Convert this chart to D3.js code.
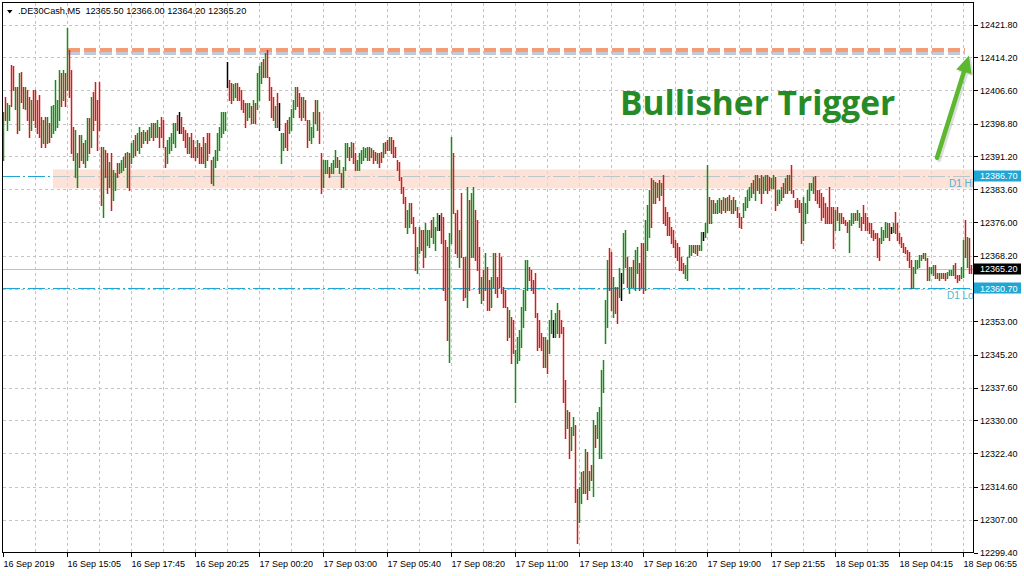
<!DOCTYPE html>
<html><head><meta charset="utf-8">
<script src="https://cdn.jsdelivr.net/npm/d3@7"></script>
<style>html,body{margin:0;padding:0;background:#fff;overflow:hidden}svg{display:block;font-family:"Liberation Sans",Arial,sans-serif}</style>
</head><body><svg id="c" width="1024" height="576"></svg>
<script>
// ---------- data ----------
const symbol = ".DE30Cash,M5";
const headerOHLC = ["12365.50", "12366.00", "12364.20", "12365.20"];
const timeLabels = ["16 Sep 2019","16 Sep 15:05","16 Sep 17:45","16 Sep 20:25","17 Sep 00:20","17 Sep 03:00","17 Sep 05:40","17 Sep 08:20","17 Sep 11:00","17 Sep 13:40","17 Sep 16:20","17 Sep 19:00","17 Sep 21:55","18 Sep 01:35","18 Sep 04:15","18 Sep 06:55"];
const priceTicks = [12421.80,12414.20,12406.60,12398.80,12391.20,12383.60,12376.00,12368.20,12360.40,12353.00,12345.20,12337.60,12330.00,12322.40,12314.60,12307.00,12299.40];
const highs = [
12401.6,12405.1,12403.7,12403.2,12412.5,12412.1,12407.4,12407.4,12410.6,12410.8,
12407.4,12407.2,12406.7,12405.1,12404.4,12406.7,12406.7,12404.4,12405.5,12400.4,
12399.7,12400.4,12400.4,12399.0,12402.8,12403.2,12409.0,12404.4,12411.3,12410.6,
12411.3,12410.6,12421.1,12416.0,12411.3,12398.1,12397.4,12392.1,12396.3,12396.3,
12394.4,12395.1,12400.2,12400.2,12405.1,12406.2,12408.5,12404.4,12408.5,12393.5,
12393.5,12392.8,12392.1,12390.0,12392.1,12388.1,12387.4,12389.7,12389.7,12390.4,
12391.1,12392.1,12392.3,12392.1,12394.4,12395.1,12396.3,12396.7,12398.1,12396.9,
12397.4,12396.9,12397.4,12398.1,12399.0,12399.0,12399.0,12399.7,12398.1,12400.4,
12399.7,12393.5,12395.1,12395.8,12396.7,12399.0,12399.0,12400.9,12401.4,12400.4,
12398.1,12397.4,12396.7,12395.8,12396.7,12395.1,12393.5,12395.1,12394.4,12393.5,
12395.8,12394.4,12396.7,12396.7,12390.4,12391.1,12392.8,12396.7,12398.1,12401.4,
12401.4,12401.4,12413.0,12409.0,12408.3,12407.9,12408.3,12408.3,12407.4,12406.7,
12404.4,12403.7,12403.7,12403.7,12402.8,12404.4,12403.7,12410.6,12412.1,12413.0,
12413.7,12415.3,12416.0,12409.7,12407.4,12405.1,12402.8,12406.0,12403.7,12396.7,
12396.7,12399.0,12399.7,12400.4,12402.1,12404.4,12407.4,12407.2,12406.0,12405.1,
12405.1,12404.4,12399.7,12399.7,12398.1,12401.4,12404.4,12404.4,12401.4,12392.1,
12390.4,12390.4,12390.4,12388.8,12389.7,12390.4,12392.8,12391.1,12390.4,12387.4,
12388.8,12394.4,12394.4,12393.5,12394.6,12394.4,12392.1,12390.4,12392.1,12392.8,
12393.5,12393.2,12393.5,12393.5,12393.2,12392.8,12392.3,12392.1,12392.1,12392.3,
12394.4,12394.6,12395.1,12395.8,12395.8,12395.1,12393.5,12390.4,12390.0,12386.5,
12384.2,12381.8,12378.8,12380.4,12380.4,12377.2,12374.9,12370.2,12374.9,12374.2,
12374.2,12375.8,12374.2,12374.2,12376.5,12377.2,12374.9,12378.1,12377.7,12378.1,
12377.2,12371.9,12370.2,12373.5,12395.8,12392.1,12378.1,12378.8,12374.2,12382.8,
12367.9,12367.9,12384.2,12381.1,12382.8,12384.2,12378.8,12376.5,12370.2,12363.3,
12364.9,12368.8,12365.6,12362.6,12363.3,12368.8,12368.8,12363.3,12368.8,12367.9,
12360.9,12360.2,12356.3,12355.6,12354.0,12353.3,12346.3,12349.3,12351.0,12356.3,
12360.2,12367.2,12367.2,12365.6,12364.9,12362.6,12364.2,12354.9,12353.3,12350.3,
12349.3,12349.3,12348.6,12353.3,12355.6,12353.3,12354.9,12357.2,12355.6,12353.3,
12351.7,12339.3,12332.4,12331.9,12328.4,12330.8,12328.9,12314.2,12314.5,12318.0,
12318.4,12323.5,12322.6,12318.4,12319.6,12330.1,12328.9,12331.9,12333.1,12341.7,
12344.0,12357.9,12367.2,12370.0,12369.0,12363.3,12360.9,12360.9,12365.4,12364.2,
12373.5,12374.2,12367.9,12365.6,12365.6,12367.2,12369.5,12370.2,12366.5,12371.2,
12371.2,12376.5,12380.0,12383.5,12386.3,12385.8,12385.3,12385.1,12385.8,12385.1,
12387.0,12379.5,12378.4,12377.2,12374.9,12374.2,12371.9,12371.2,12370.2,12367.9,
12366.5,12366.0,12367.9,12370.7,12370.7,12370.7,12370.7,12370.7,12370.7,12373.7,
12373.7,12375.8,12389.3,12381.8,12381.1,12381.1,12380.4,12381.1,12381.6,12381.1,
12381.8,12381.6,12381.8,12382.3,12381.1,12381.8,12381.1,12379.5,12378.1,12377.2,
12380.4,12381.8,12383.5,12384.2,12385.1,12385.8,12387.0,12387.0,12386.3,12387.0,
12386.5,12387.0,12387.0,12386.5,12386.3,12387.0,12386.5,12383.5,12383.5,12384.2,
12385.1,12386.3,12387.0,12387.0,12389.3,12383.5,12381.1,12381.6,12381.1,12380.4,
12381.8,12380.4,12383.5,12385.1,12385.1,12386.5,12386.7,12383.5,12383.5,12382.8,
12381.8,12380.4,12379.5,12384.2,12379.5,12379.5,12378.8,12379.5,12378.1,12378.1,
12377.2,12376.5,12376.0,12376.5,12378.1,12378.1,12378.1,12378.8,12378.1,12377.2,
12380.0,12378.1,12377.2,12375.8,12375.8,12374.2,12373.5,12373.5,12372.3,12374.9,
12374.2,12376.0,12375.8,12375.8,12374.9,12375.8,12378.4,12375.8,12373.5,12372.6,
12371.2,12370.2,12369.5,12369.0,12367.2,12365.6,12367.2,12367.2,12368.4,12368.4,
12368.8,12368.8,12367.7,12365.6,12365.6,12366.0,12366.0,12364.2,12364.2,12364.2,
12364.2,12364.2,12364.4,12364.9,12364.9,12366.0,12366.5,12363.7,12363.7,12365.6,
12371.9,12376.5,12372.6,12372.3,12366.0];
const lows = [
12390.4,12399.7,12397.4,12399.7,12402.8,12406.7,12402.1,12396.7,12397.4,12403.9,
12402.5,12402.1,12399.7,12395.8,12397.4,12399.7,12398.1,12396.7,12395.8,12393.5,
12394.4,12393.5,12394.4,12394.6,12395.8,12396.7,12397.4,12398.1,12399.7,12402.8,
12404.4,12402.8,12406.7,12405.1,12392.1,12390.4,12386.5,12384.2,12388.8,12390.4,
12389.7,12388.8,12390.4,12392.1,12393.5,12397.4,12399.7,12392.8,12397.4,12380.0,
12377.2,12386.5,12382.8,12384.2,12378.8,12381.1,12383.5,12386.5,12387.4,12387.6,
12388.1,12388.8,12384.2,12383.5,12389.7,12391.1,12391.6,12392.8,12392.1,12393.5,
12394.4,12395.1,12394.4,12395.1,12395.8,12395.1,12395.8,12395.8,12393.5,12395.8,
12393.5,12388.8,12389.7,12392.1,12392.8,12394.4,12393.5,12397.4,12396.7,12396.7,
12395.1,12393.5,12392.1,12392.1,12391.1,12391.1,12390.4,12391.1,12389.7,12389.7,
12389.7,12388.8,12390.4,12392.1,12385.1,12384.6,12388.8,12390.4,12392.8,12395.8,
12396.7,12397.4,12407.4,12404.4,12403.7,12404.4,12405.1,12404.4,12404.4,12402.1,
12401.4,12398.1,12399.7,12400.4,12399.0,12399.0,12399.0,12402.1,12404.4,12408.3,
12409.7,12409.7,12409.7,12404.4,12400.4,12399.7,12398.1,12398.1,12397.4,12389.7,
12392.8,12393.5,12392.8,12396.7,12397.4,12400.4,12402.1,12402.8,12400.4,12399.7,
12400.4,12399.7,12393.5,12395.1,12394.4,12395.8,12399.0,12397.4,12394.4,12382.8,
12384.2,12387.4,12387.4,12386.5,12387.4,12387.4,12388.8,12388.8,12387.4,12384.2,
12384.2,12388.1,12391.1,12390.4,12391.1,12389.7,12388.1,12388.1,12388.1,12389.7,
12390.4,12391.1,12390.4,12390.4,12391.1,12389.7,12390.4,12389.7,12388.8,12390.0,
12391.1,12392.1,12392.8,12392.8,12392.1,12391.1,12391.1,12388.1,12385.8,12382.8,
12380.4,12374.9,12373.5,12374.9,12375.8,12373.5,12364.9,12364.2,12368.8,12369.5,
12365.6,12367.9,12370.7,12370.2,12372.6,12371.2,12369.5,12374.2,12374.2,12371.2,
12360.2,12357.9,12348.6,12343.5,12371.2,12378.1,12368.8,12367.9,12365.6,12367.9,
12357.9,12358.6,12356.3,12360.2,12367.9,12367.9,12367.2,12364.9,12359.5,12357.2,
12357.9,12360.2,12355.6,12355.6,12356.3,12360.9,12359.5,12358.6,12360.9,12359.5,
12356.3,12356.3,12348.6,12349.3,12343.3,12345.6,12334.2,12343.3,12344.0,12347.0,
12351.7,12355.6,12360.2,12362.6,12360.2,12359.5,12354.0,12346.3,12347.0,12346.3,
12342.4,12342.4,12341.0,12345.6,12350.3,12349.3,12349.3,12350.3,12349.3,12350.3,
12334.2,12325.9,12328.2,12321.2,12323.1,12326.6,12311.0,12301.7,12306.4,12310.8,
12313.3,12313.3,12311.9,12313.8,12316.1,12312.6,12323.8,12325.9,12321.2,12321.4,
12336.5,12347.9,12351.7,12360.2,12355.6,12354.0,12354.9,12352.6,12358.6,12357.9,
12361.9,12365.6,12360.9,12359.5,12360.9,12360.9,12360.2,12364.2,12360.2,12360.9,
12359.5,12360.2,12369.5,12372.6,12374.9,12380.4,12380.4,12381.8,12381.1,12382.3,
12375.8,12375.3,12373.0,12373.0,12371.2,12370.2,12367.9,12367.2,12364.9,12364.9,
12364.2,12363.0,12362.6,12367.9,12368.4,12369.0,12368.8,12368.4,12369.5,12369.5,
12371.9,12372.6,12373.7,12375.8,12375.8,12378.1,12378.1,12378.1,12378.4,12378.1,
12378.8,12378.4,12378.8,12378.8,12378.1,12378.1,12378.8,12377.2,12374.9,12374.6,
12377.2,12378.8,12379.5,12381.1,12381.8,12382.8,12381.1,12383.5,12382.8,12380.4,
12382.8,12383.5,12382.8,12383.5,12383.9,12383.9,12378.8,12380.0,12380.4,12381.1,
12381.8,12382.8,12382.8,12383.5,12382.8,12381.8,12379.5,12379.5,12378.4,12371.2,
12371.9,12375.8,12378.1,12381.1,12383.5,12382.8,12381.1,12380.4,12379.5,12376.5,
12377.2,12375.8,12375.8,12375.8,12375.8,12370.0,12374.2,12376.5,12374.2,12375.8,
12375.8,12375.3,12373.7,12369.0,12375.3,12375.8,12376.5,12376.5,12374.9,12374.2,
12375.8,12374.2,12374.2,12373.5,12372.6,12371.9,12372.3,12367.9,12367.2,12371.2,
12371.9,12372.6,12372.6,12371.9,12373.5,12373.7,12373.5,12371.9,12371.2,12370.2,
12369.0,12368.8,12367.2,12365.6,12360.7,12360.7,12364.2,12365.4,12365.6,12367.2,
12367.7,12367.2,12362.6,12362.6,12364.2,12363.7,12363.0,12363.0,12362.6,12363.0,
12363.0,12362.6,12363.0,12363.7,12363.7,12363.7,12363.0,12362.1,12362.6,12363.0,
12363.3,12367.9,12365.6,12364.2,12364.2];
// bar direction per bar: G = up, R = down, K = unchanged (rows of 10 bars)
const dirRows = [
"GRGGRRGRGR","RGRRGRRRRR","GRGRGGGGGR","GRGRRRGGRG","RGGRGRRRRR",
"GRRGRGGRGG","GRGRGGRGGR","GGRGGRGGRR","RRGGGGGRKR","RRRGRRRGRR",
"RGRRRGGGGG","GGKRRGGRRR","RRGGRGRGGG","RGRRRRGRKG","GRRGGGGRRR",
"GRRGGGRGRR","GGGRGGGRGR","GGGRGRRGGG","GGGRGRRGRR","GRRGRRRRRR",
"RRGGRRRGGR","RGGGRGGGKR","RRRGGRRRGR","RRGRGGRRRG","RGRRGGRRRR",
"RRRGRRGGGG","GGGRRRRRRR","RGRGGKGGRR","RRGRGGRRGG","RGRGRGRGGG",
"GGGRRGRRGK","GGRGGRGGRR","RGGGRGRGRG","RRRRRRRRRR","RGGGGRGRGG",
"KGGRGRGGGR","GRGRGRGRRR","GGGGGRGRGR","GGRRGGRGGG","RGRGRRRRRR",
"GGGGGGRRRR","RRRRRRGRGR","RRRGGGRGGR","RRRRRRRRRG","GGGRKGRRRR",
"RRRRRGGGGG","RGRGGGRGRG","RRGGGGRRRG","GRGRR"];
const dirs = dirRows.join("");
const d1High = 12386.70, d1Low = 12360.70, lastPrice = 12365.20;
const zoneLow = 12383.8, zoneHigh = 12388.2, zoneStartBar = 25;
const triggerLevel = 12415.9, triggerStartBar = 32.5, triggerEndBar = 481;
const triggerText = "Bullisher Trigger";
const arrowFrom = [467, 12390.9], arrowTo = [483, 12414.6];

// ---------- layout ----------
const W = 1024, H = 576, L = 2.5, T = 2.5, R = 973.5, B = 552.5;
const svg = d3.select("#c");
const x = d3.scaleLinear().domain([0, highs.length - 1]).range([3, 971]);
const y = d3.scaleLinear().domain([12299.4, 12421.8]).range([552.5, 24.5]);
const px = v => Math.round(v) + 0.5;
const col = {G: "#1a8a1a", R: "#d41c1c", K: "#000000"};
const cyan = "#1fa6d3";

svg.append("rect").attr("width", W).attr("height", H).attr("fill", "#fff");
svg.append("defs").append("clipPath").attr("id", "plot")
  .append("rect").attr("x", L).attr("y", T).attr("width", R - L).attr("height", B - T);
const g = svg.append("g").attr("clip-path", "url(#plot)");

// grid
g.selectAll(".vg").data(d3.range(16, highs.length, 16)).join("line").attr("class", "vg")
  .attr("x1", d => px(x(d))).attr("x2", d => px(x(d))).attr("y1", T).attr("y2", B)
  .attr("stroke", "#c4c4c4").attr("stroke-dasharray", "3,3").attr("shape-rendering", "crispEdges");
g.selectAll(".hg").data(priceTicks).join("line").attr("class", "hg")
  .attr("x1", L).attr("x2", R).attr("y1", d => px(y(d))).attr("y2", d => px(y(d)))
  .attr("stroke", "#c4c4c4").attr("stroke-dasharray", "3,3").attr("shape-rendering", "crispEdges");

// D1 lines
[d1High, d1Low].forEach(v => {
  g.append("line").attr("x1", L).attr("x2", R).attr("y1", px(y(v))).attr("y2", px(y(v)))
    .attr("stroke", cyan).attr("stroke-dasharray", "17,3,2,3").attr("shape-rendering", "crispEdges");
});
// current price line
g.append("line").attr("x1", L).attr("x2", R).attr("y1", px(y(lastPrice))).attr("y2", px(y(lastPrice)))
  .attr("stroke", "#c0c0c0").attr("shape-rendering", "crispEdges");

// pink zone
g.append("rect").attr("x", x(zoneStartBar)).attr("y", y(zoneHigh))
  .attr("width", R - x(zoneStartBar)).attr("height", y(zoneLow) - y(zoneHigh))
  .attr("fill", "#fbd5c6").attr("opacity", 0.7);

// trigger dashed line with shadow
g.append("line").attr("x1", x(triggerStartBar)).attr("x2", x(triggerEndBar))
  .attr("y1", y(triggerLevel) + 3.5).attr("y2", y(triggerLevel) + 3.5)
  .attr("stroke", "#b8bccb").attr("stroke-width", 3).attr("stroke-dasharray", "12,4").attr("opacity", 0.8);
g.append("line").attr("x1", x(triggerStartBar)).attr("x2", x(triggerEndBar))
  .attr("y1", y(triggerLevel)).attr("y2", y(triggerLevel))
  .attr("stroke", "#f39c76").attr("stroke-width", 4).attr("stroke-dasharray", "12,4");

// bars
const bars = highs.map((h, i) => ({i, h, l: lows[i], d: dirs[i]}));
g.selectAll(".bar").data(bars).join("line").attr("class", "bar")
  .attr("x1", d => px(x(d.i))).attr("x2", d => px(x(d.i)))
  .attr("y1", d => Math.round(y(d.h))).attr("y2", d => Math.round(y(d.l)) + 1)
  .attr("stroke", d => col[d.d]).attr("stroke-width", 1.5);

// D1 labels (clipped)
g.append("text").attr("x", 949).attr("y", y(d1High) + 11).text("D1 High")
  .attr("font-size", 10).attr("fill", "#55b3d1");
g.append("text").attr("x", 947).attr("y", y(d1Low) + 11).text("D1 Low")
  .attr("font-size", 10).attr("fill", "#55b3d1");

// frame
svg.append("rect").attr("x", L).attr("y", T).attr("width", R - L).attr("height", B - T)
  .attr("fill", "none").attr("stroke", "#000").attr("shape-rendering", "crispEdges");

// right axis
const ra = svg.append("g");
priceTicks.forEach(v => {
  const yy = px(y(v));
  ra.append("line").attr("x1", R).attr("x2", R + 4).attr("y1", yy).attr("y2", yy)
    .attr("stroke", "#000").attr("shape-rendering", "crispEdges");
  ra.append("text").attr("x", 980).attr("y", y(v) + 3.5).text(v.toFixed(2))
    .attr("font-size", 9).attr("fill", "#000");
});
function priceBox(v, fill) {
  const yy = y(v);
  ra.append("rect").attr("x", R + 0.5).attr("y", Math.round(yy) - 5.5).attr("width", 47).attr("height", 11).attr("fill", fill);
  ra.append("text").attr("x", 980).attr("y", yy + 3.5).text(v.toFixed(2)).attr("font-size", 9).attr("fill", "#fff");
}
priceBox(d1High, cyan);
priceBox(d1Low, cyan);
priceBox(lastPrice, "#000");

// bottom axis
const ba = svg.append("g");
timeLabels.forEach((t, k) => {
  const xx = px(x(k * 32));
  ba.append("line").attr("x1", xx).attr("x2", xx).attr("y1", B).attr("y2", B + 4)
    .attr("stroke", "#000").attr("shape-rendering", "crispEdges");
  ba.append("text").attr("x", xx).attr("y", 566.5).text(t).attr("font-size", 9).attr("fill", "#000");
});

// header
svg.append("path").attr("d", "M7,10L12.5,10L9.75,13.5Z").attr("fill", "#000");
svg.append("text").attr("x", 18).attr("y", 14).attr("font-size", 9.2).attr("fill", "#000")
  .style("white-space", "pre").text(symbol + "  " + headerOHLC.join(" "));

// annotation text
svg.append("text").attr("x", x(308.5)).attr("y", y(12400.8))
  .attr("font-family", "'Open Sans', 'DejaVu Sans', sans-serif").attr("font-weight", "bold")
  .attr("font-size", 33.5).attr("fill", "#268b26").text(triggerText);

// arrow
const ax0 = x(arrowFrom[0]), ay0 = y(arrowFrom[1]), ax1 = x(arrowTo[0]), ay1 = y(arrowTo[1]);
const len = Math.hypot(ax1 - ax0, ay1 - ay0), ux = (ax1 - ax0) / len, uy = (ay1 - ay0) / len;
const hl = 17, hw = 8;
const bx = ax1 - ux * hl, by = ay1 - uy * hl;
function drawArrow(dx, dy, color, op) {
  const a = svg.append("g").attr("transform", `translate(${dx},${dy})`).attr("opacity", op);
  a.append("line").attr("x1", ax0).attr("y1", ay0).attr("x2", bx + ux * 2).attr("y2", by + uy * 2)
    .attr("stroke", color).attr("stroke-width", 4.5).attr("stroke-linecap", "round");
  a.append("path").attr("d", `M${ax1},${ay1}L${bx - uy * hw},${by + ux * hw}L${bx + uy * hw},${by - ux * hw}Z`).attr("fill", color);
}
drawArrow(2, 2, "#9aa39a", 0.35);
drawArrow(0, 0, "#5bb82f", 1);
</script></body></html>
